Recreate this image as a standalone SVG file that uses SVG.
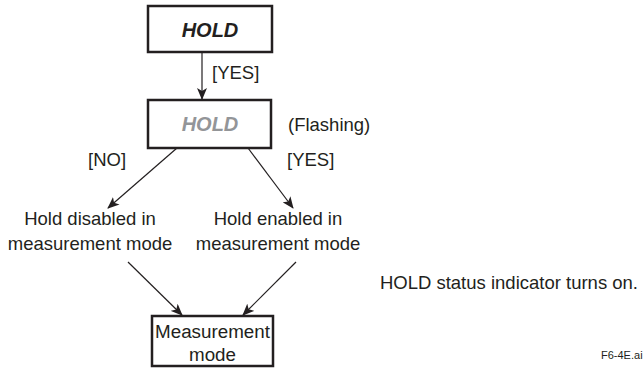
<svg xmlns="http://www.w3.org/2000/svg" width="643" height="369" viewBox="0 0 643 369">
<style>
.box{fill:#fff;stroke:#231f20;stroke-width:2.5}
.t{font-family:"Liberation Sans",Arial,sans-serif;font-size:18.5px;fill:#231f20}
.c{text-anchor:middle}
.b{font-size:18.8px}
.h{font-family:"Liberation Sans",Arial,sans-serif;font-size:20px;font-weight:bold;font-style:italic;text-anchor:middle}
.ln{stroke:#231f20;stroke-width:1.2;fill:none;marker-end:url(#ah)}
</style>
<defs>
<marker id="ah" viewBox="0 0 12 10" refX="11" refY="5" markerWidth="12" markerHeight="10" markerUnits="userSpaceOnUse" orient="auto">
<path d="M0,0 L12,5 L0,10 L3,5 Z" fill="#231f20"/>
</marker>
</defs>
<g id="connectors">
<line class="ln" x1="202" y1="52" x2="202" y2="99"/>
<line class="ln" x1="177" y1="148" x2="108" y2="208"/>
<line class="ln" x1="248" y1="148" x2="293" y2="208"/>
<line class="ln" x1="128" y1="262" x2="182" y2="315"/>
<line class="ln" x1="296" y1="262" x2="243" y2="315"/>
</g>
<g id="hold1">
<rect class="box" x="148" y="6" width="124" height="46"/>
<text class="h" x="210" y="37" fill="#231f20">HOLD</text>
</g>
<text class="t" x="212" y="79">[YES]</text>
<g id="hold2">
<rect class="box" x="148" y="100" width="123" height="48"/>
<text class="h" x="210" y="131" fill="#939598">HOLD</text>
</g>
<text class="t" x="288" y="131">(Flashing)</text>
<text class="t" x="88" y="166">[NO]</text>
<text class="t" x="287" y="166">[YES]</text>
<g id="disabled">
<text class="t c" x="90" y="225">Hold disabled in</text>
<text class="t c" x="90" y="250">measurement mode</text>
</g>
<g id="enabled">
<text class="t c" x="278" y="225">Hold enabled in</text>
<text class="t c" x="278" y="250">measurement mode</text>
</g>
<text class="t" x="638" y="289" text-anchor="end">HOLD status indicator turns on.</text>
<g id="measurement">
<rect class="box" x="152" y="316" width="121" height="50"/>
<text class="t c b" x="212.5" y="338">Measurement</text>
<text class="t c b" x="212.5" y="361">mode</text>
</g>
<text class="t" x="601" y="359" style="font-size:11px">F6-4E.ai</text>
</svg>
